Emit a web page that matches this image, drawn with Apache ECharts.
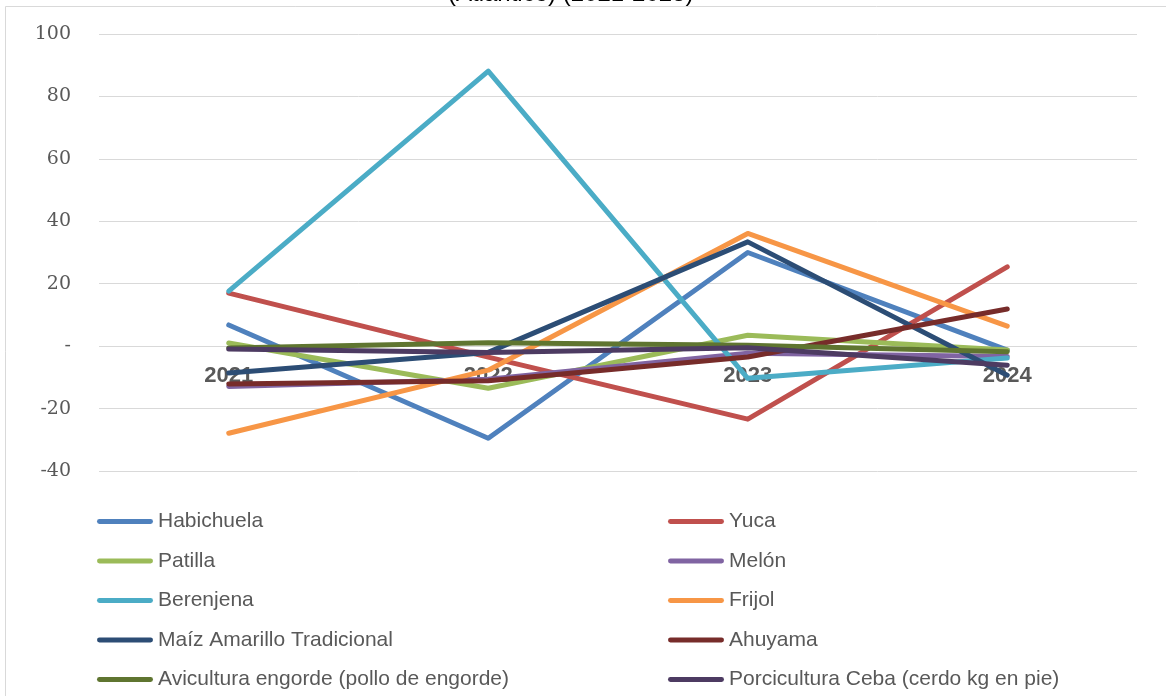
<!DOCTYPE html>
<html>
<head>
<meta charset="utf-8">
<script src="https://cdn.jsdelivr.net/npm/echarts@6/dist/echarts.min.js"></script>
<style>
html, body { margin: 0; padding: 0; background: #fff; }
#chart { width: 1166px; height: 696px; }
</style>
</head>
<body>
<div id="chart"></div>
<script>
var years = ['2021', '2022', '2023', '2024'];
var yTicks = [-40, -20, 0, 20, 40, 60, 80, 100];

var habichuela = [6.8, -29.5, 30.0, -1.3];
var yuca = [17.0, -3.5, -23.4, 25.4];
var patilla = [1.0, -13.5, 3.5, -1.2];
var melon = [-12.9, -10.6, -2.3, -3.3];
var berenjena = [17.6, 88.1, -10.3, -3.8];
var frijol = [-27.9, -7.7, 36.1, 6.4];
var maiz = [-8.6, -2.0, 33.4, -9.3];
var ahuyama = [-12.1, -11.1, -3.5, 11.9];
var avicultura = [-0.6, 1.1, 0.3, -1.8];
var porcicultura = [-0.9, -2.0, -0.5, -6.1];

var names = ['Habichuela', 'Yuca', 'Patilla', 'Melón', 'Berenjena', 'Frijol',
	'Maíz Amarillo Tradicional', 'Ahuyama', 'Avicultura engorde (pollo de engorde)',
	'Porcicultura Ceba (cerdo kg en pie)'];
var values = [habichuela, yuca, patilla, melon, berenjena, frijol, maiz, ahuyama, avicultura, porcicultura];
var colors = ['#4F81BD', '#C0504D', '#9BBB59', '#8064A2', '#4BACC6', '#F79646',
	'#2C4D75', '#772C2A', '#5F7530', '#4D3B62'];

var chart = echarts.init(document.getElementById('chart'));

var series = names.map(function (n, i) {
	return {
		name: n,
		type: 'line',
		data: values[i],
		symbol: 'none',
		color: colors[i],
		lineStyle: { width: 5, color: colors[i], cap: 'round', join: 'round' }
	};
});

function legendCol(left, list) {
	return {
		orient: 'vertical',
		left: left,
		top: 511,
		padding: 0,
		itemWidth: 56,
		itemHeight: 20,
		itemGap: 18.5,
		icon: 'path://M2,8 L54,8 A2.5,2.5 0 0 1 54,13 L2,13 A2.5,2.5 0 0 1 2,8 Z',
		data: list,
		selectedMode: false,
		textStyle: { fontFamily: 'Liberation Sans, Arial', fontSize: 21, color: '#595959', lineHeight: 20, padding: [0, 0, 0, 0] }
	};
}

var option = {
	animation: false,
	backgroundColor: '#fff',
	title: {
		text: '(Atlántico) (2021-2023)',
		left: 443,
		top: -23,
		textStyle: { fontFamily: 'Liberation Sans, Arial', fontSize: 24, fontWeight: 'normal', color: '#000' }
	},
	graphic: [{
		type: 'rect',
		shape: { x: 5.5, y: 6.5, width: 1300, height: 800 },
		style: { fill: null, stroke: '#d9d9d9', lineWidth: 1 },
		silent: true,
		z: -1
	}],
	legend: [
		legendCol(97, [names[0], names[2], names[4], names[6], names[8]]),
		legendCol(668, [names[1], names[3], names[5], names[7], names[9]])
	],
	grid: { left: 99, right: 29, top: 34, bottom: 225, containLabel: false },
	xAxis: {
		type: 'category',
		data: years,
		boundaryGap: true,
		position: 'bottom',
		// labels sit just under the zero line, as in the source
		offset: -125,
		axisLine: { show: false, onZero: false },
		axisTick: { show: false },
		axisLabel: {
			margin: 19,
			fontFamily: 'Liberation Sans, Arial',
			fontSize: 22,
			fontWeight: 'bold',
			color: '#595959'
		}
	},
	yAxis: {
		type: 'value',
		min: yTicks[0],
		max: yTicks[yTicks.length - 1],
		interval: 20,
		axisLine: { show: false },
		axisTick: { show: false },
		splitLine: { lineStyle: { color: '#d9d9d9', width: 1 } },
		axisLabel: {
			margin: 28,
			fontFamily: 'DejaVu Serif',
			fontSize: 19,
			color: '#595959',
			formatter: function (v) { return v === 0 ? '-' : v; }
		}
	},
	series: series
};

chart.setOption(option);
</script>
</body>
</html>
